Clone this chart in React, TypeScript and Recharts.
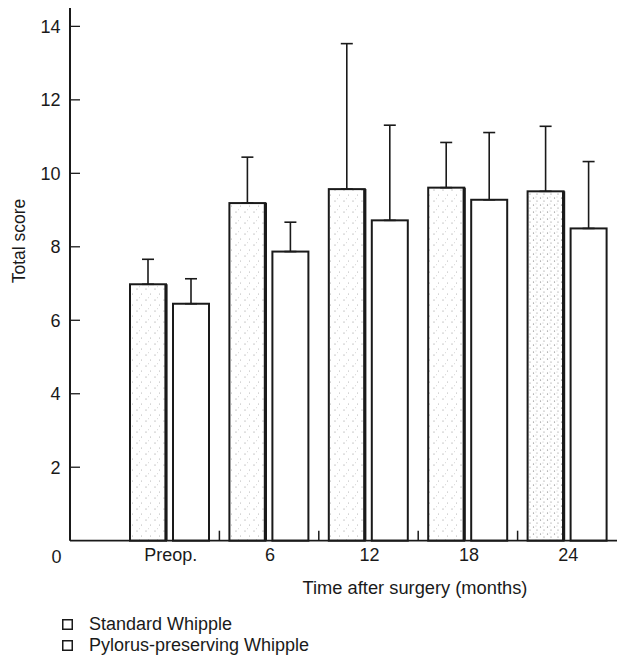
import React from 'react';
import { BarChart, Bar, XAxis, YAxis, ErrorBar } from 'recharts';

const categories = ['Preop.', '6', '12', '18', '24'];
const standardWhipple = [6.98, 9.19, 9.57, 9.61, 9.51];
const standardErr = [0.68, 1.25, 3.96, 1.23, 1.77];
const pyloricWhipple = [6.45, 7.87, 8.72, 9.28, 8.5];
const pyloricErr = [0.68, 0.8, 2.59, 1.83, 1.82];
const yTicks = [0, 2, 4, 6, 8, 10, 12, 14];
const seriesNames = ['Standard Whipple', 'Pylorus-preserving Whipple'];

const data = categories.map((c, i) => ({
  cat: c,
  std: standardWhipple[i],
  stdErr: [0, standardErr[i]],
  pp: pyloricWhipple[i],
  ppErr: [0, pyloricErr[i]],
}));

const FONT = '"Liberation Sans", Arial, Helvetica, sans-serif';
const W = 617;
const H = 660;
const Y_AXIS_W = 70;
const PAD_LEFT = 50;
const BAND = (W - Y_AXIS_W - PAD_LEFT) / categories.length;

const StdShape = (props: any) => {
  const { x, y, width, height, index } = props;
  const fill = index === 4 ? 'url(#stippleDense)' : 'url(#stipple)';
  return (
    <g>
      <rect x={x} y={y} width={width} height={height} fill={fill} stroke="#1a1a1a" strokeWidth={2} />
      <line x1={x + width} y1={y} x2={x + width} y2={y + height} stroke="#1a1a1a" strokeWidth={3.2} />
    </g>
  );
};

const PPShape = (props: any) => {
  const { x, y, width, height } = props;
  return <rect x={x} y={y} width={width} height={height} fill="#ffffff" stroke="#1a1a1a" strokeWidth={2} />;
};

const YTick = (props: any) => {
  const { x, y, payload } = props;
  if (payload.value === 0) {
    return (
      <text x={x - 13.5} y={y + 22} textAnchor="middle" fontSize={18} fontFamily={FONT} fill="#1a1a1a">
        0
      </text>
    );
  }
  return (
    <g>
      <line x1={x} y1={y} x2={x + 10} y2={y} stroke="#1a1a1a" strokeWidth={1.3} />
      <text x={x - 9.5} y={y} dy="0.36em" textAnchor="end" fontSize={18} fontFamily={FONT} fill="#1a1a1a">
        {payload.value}
      </text>
    </g>
  );
};

const XTick = (props: any) => {
  const { x, y, payload, index } = props;
  return (
    <g>
      {index > 0 ? (
        <line x1={x - BAND / 2} y1={y} x2={x - BAND / 2} y2={y - 10} stroke="#1a1a1a" strokeWidth={1.5} />
      ) : null}
      <text x={x + 1} y={y + 20} textAnchor="middle" fontSize={18} fontFamily={FONT} fill="#1a1a1a">
        {payload.value}
      </text>
    </g>
  );
};

export default function App() {
  return (
    <div style={{ position: 'absolute', left: 0, top: 0, width: W, height: H, background: '#fff' }}>
      <svg width={0} height={0} style={{ position: 'absolute' }}>
        <defs>
          <pattern id="stipple" width={9} height={11} patternUnits="userSpaceOnUse">
            <rect width={9} height={11} fill="#ffffff" />
            <circle cx={2} cy={3} r={0.55} fill="#8a8a8a" />
            <circle cx={6.5} cy={8} r={0.5} fill="#a0a0a0" />
            <circle cx={4.5} cy={0.8} r={0.45} fill="#b0b0b0" />
          </pattern>
          <pattern id="stippleDense" width={7} height={7} patternUnits="userSpaceOnUse">
            <rect width={7} height={7} fill="#ffffff" />
            <circle cx={1.5} cy={2} r={0.6} fill="#707070" />
            <circle cx={5} cy={5} r={0.6} fill="#808080" />
            <circle cx={4} cy={1} r={0.45} fill="#a0a0a0" />
          </pattern>
        </defs>
      </svg>
      <BarChart
        width={W}
        height={H}
        data={data}
        margin={{ top: 8, right: 0, left: 0, bottom: 89.3 }}
        barSize={36}
        barGap={7}
      >
        <XAxis
          dataKey="cat"
          height={30}
          padding={{ left: PAD_LEFT, right: 0 }}
          tickSize={0}
          tickMargin={0}
          tickLine={false}
          axisLine={{ stroke: '#1a1a1a', strokeWidth: 1.8 }}
          tick={<XTick />}
          interval={0}
          label={{
            content: () => (
              <text x={415} y={594} textAnchor="middle" fontSize={18.3} fontFamily={FONT} fill="#1a1a1a">
                Time after surgery (months)
              </text>
            ),
          }}
        />
        <YAxis
          width={Y_AXIS_W}
          domain={[0, 14.5]}
          ticks={yTicks}
          interval={0}
          tickSize={0}
          tickMargin={0}
          tickLine={false}
          axisLine={{ stroke: '#1a1a1a', strokeWidth: 2 }}
          tick={<YTick />}
          label={{
            content: () => (
              <text
                x={19}
                y={241}
                transform="rotate(-90, 19, 241)"
                textAnchor="middle"
                dy="0.36em"
                fontSize={17.5}
                fontFamily={FONT}
                fill="#1a1a1a"
              >
                Total score
              </text>
            ),
          }}
        />
        <Bar dataKey="std" name={seriesNames[0]} shape={<StdShape />} isAnimationActive={false}>
          <ErrorBar dataKey="stdErr" direction="y" width={6} stroke="#1a1a1a" strokeWidth={1.6} isAnimationActive={false} />
        </Bar>
        <Bar dataKey="pp" name={seriesNames[1]} shape={<PPShape />} isAnimationActive={false}>
          <ErrorBar dataKey="ppErr" direction="y" width={6} stroke="#1a1a1a" strokeWidth={1.6} isAnimationActive={false} />
        </Bar>
      </BarChart>
      <div
        style={{
          position: 'absolute',
          left: 62,
          top: 614,
          fontFamily: FONT,
          fontSize: 18,
          color: '#1a1a1a',
          lineHeight: '21px',
        }}
      >
        {seriesNames.map((name) => (
          <div key={name} style={{ display: 'flex', alignItems: 'center', height: 21 }}>
            <svg width={11} height={11} style={{ marginRight: 16 }}>
              <rect x={0.75} y={0.75} width={9.5} height={9.5} fill="#fff" stroke="#1a1a1a" strokeWidth={1.5} />
            </svg>
            <span>{name}</span>
          </div>
        ))}
      </div>
    </div>
  );
}
